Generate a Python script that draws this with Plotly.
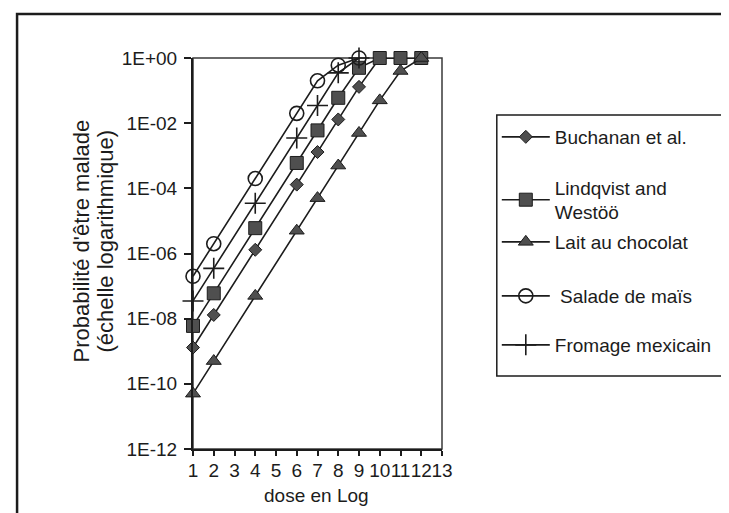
import plotly.graph_objects as go

# ---- data ----
doses = [1, 2, 3, 4, 5, 6, 7, 8, 9, 10, 11, 12, 13]
buchanan = [1.3e-9, 1.3e-8, None, 1.3e-6, None, 1.3e-4, 1.3e-3, 1.3e-2, 1.3e-1, 1, 1, 1, None]
lindqvist = [6e-9, 6e-8, None, 6e-6, None, 6e-4, 6e-3, 6e-2, 0.5, 1, 1, 1, None]
lait = [5e-11, 5e-10, None, 5e-8, None, 5e-6, 5e-5, 5e-4, 5e-3, 5e-2, 0.4, 1, None]
salade = [2e-7, 2e-6, None, 2e-4, None, 2e-2, 2e-1, 0.6, 1, None, None, None, None]
fromage = [3.5e-8, 3.5e-7, None, 3.5e-5, None, 3.5e-3, 3.5e-2, 3.5e-1, 1, None, None, None, None]

series_names = ["Buchanan et al.", "Lindqvist and<br>Westöö", "Lait au chocolat",
                " Salade de maïs", "Fromage mexicain"]
y_tickvals = [1e0, 1e-2, 1e-4, 1e-6, 1e-8, 1e-10, 1e-12]
y_ticktext = ["1E+00", "1E-02", "1E-04", "1E-06", "1E-08", "1E-10", "1E-12"]
x_ticktext = [str(d) for d in doses]
y_title_lines = ["Probabilité d'être malade", "(échelle logarithmique)"]
x_title = "dose en Log"

FONT = "Arial, Liberation Sans, sans-serif"
INK = "#1c1c1c"
FILL = "#4f4f4f"

styles = [
    dict(symbol="diamond", size=10, color=FILL, line=dict(color=INK, width=1)),
    dict(symbol="square", size=13, color=FILL, line=dict(color=INK, width=1)),
    dict(symbol="triangle-up", size=13, color=FILL, line=dict(color=INK, width=1)),
    dict(symbol="circle-open", size=14, color=INK, line=dict(color=INK, width=1.6)),
    dict(symbol="cross-thin-open", size=15, color=INK, line=dict(color=INK, width=1.6)),
]

# The page body adds an 8px offset; work in window pixels and convert.
OFF = 8
W, H = 729 - OFF, 513 - OFF
# plot area in window pixels
X0, X1, Y0, Y1 = 193, 452, 58, 449
L, R, T, B = X0 - OFF, W - (X1 - OFF), Y0 - OFF, H - (Y1 - OFF)
pw, ph = W - L - R, H - T - B

def px(x):
    return (x - OFF - L) / pw

def py(y):
    return (H - B - (y - OFF)) / ph

# legend entry vertical centres (window pixels)
legend_y = [137, 200, 242, 296, 345]

fig = go.Figure()
for i, (name, vals) in enumerate(zip(series_names, [buchanan, lindqvist, lait, salade, fromage])):
    fig.add_trace(go.Scatter(
        x=doses, y=vals, name=name, mode="lines+markers",
        connectgaps=True, cliponaxis=False,
        line=dict(color=INK, width=1.6),
        marker=styles[i],
        legend="legend" if i == 0 else "legend%d" % (i + 1),
    ))

legend_common = dict(
    xanchor="left", yanchor="middle",
    bgcolor="rgba(0,0,0,0)", borderwidth=0,
    font=dict(family=FONT, size=19, color=INK),
    itemwidth=48,
)
layout_legends = {}
for i, yy in enumerate(legend_y):
    key = "legend" if i == 0 else "legend%d" % (i + 1)
    layout_legends[key] = dict(x=px(509), y=py(yy), **legend_common)

fig.update_layout(
    width=W, height=H,
    margin=dict(l=L, r=R, t=T, b=B),
    paper_bgcolor="white", plot_bgcolor="white",
    font=dict(family=FONT, size=19, color=INK),
    showlegend=True,
    **layout_legends,
    xaxis=dict(
        type="linear", range=[1, 13],
        tickmode="array", tickvals=doses, ticktext=x_ticktext, tickangle=0,
        ticks="outside", ticklen=5, tickcolor=INK, tickwidth=1.5,
        showline=True, linecolor=INK, linewidth=2, mirror=False,
        showgrid=False, zeroline=False,
        tickfont=dict(size=19), ticklabelstandoff=-2,
    ),
    yaxis=dict(
        type="log", range=[-12, 0],
        tickmode="array", tickvals=y_tickvals, ticktext=y_ticktext,
        ticks="outside", ticklen=7, tickcolor=INK, tickwidth=1.5,
        showline=True, linecolor=INK, linewidth=2, mirror=False,
        showgrid=False, zeroline=False,
        tickfont=dict(size=19), ticklabelstandoff=3,
    ),
    annotations=[
        dict(text=y_title_lines[0], xref="paper", yref="paper", x=px(78), y=py(241),
             xanchor="center", yanchor="middle", textangle=-90, showarrow=False,
             font=dict(size=22, family=FONT, color=INK)),
        dict(text=y_title_lines[1], xref="paper", yref="paper", x=px(103), y=py(241),
             xanchor="center", yanchor="middle", textangle=-90, showarrow=False,
             font=dict(size=22, family=FONT, color=INK)),
        dict(text=x_title, xref="paper", yref="paper", x=px(321), y=py(495),
             xanchor="center", yanchor="middle", showarrow=False,
             font=dict(size=19, family=FONT, color=INK)),
    ],
    shapes=[
        # chart-area border (top and left edges visible)
        dict(type="rect", xref="paper", yref="paper",
             x0=px(10), x1=px(760), y0=py(540), y1=py(14),
             line=dict(color=INK, width=2.5), fillcolor="rgba(0,0,0,0)", layer="below"),
        # plot-area border (top and right)
        dict(type="rect", xref="paper", yref="paper", x0=0, x1=1, y0=0, y1=1,
             line=dict(color="#3a3a3a", width=1.5), fillcolor="rgba(0,0,0,0)", layer="below"),
        # legend box
        dict(type="rect", xref="paper", yref="paper",
             x0=px(509), x1=px(760), y0=py(376), y1=py(115),
             line=dict(color=INK, width=1.5), fillcolor="rgba(0,0,0,0)", layer="below"),
    ],
)

fig.write_html("out.html")
